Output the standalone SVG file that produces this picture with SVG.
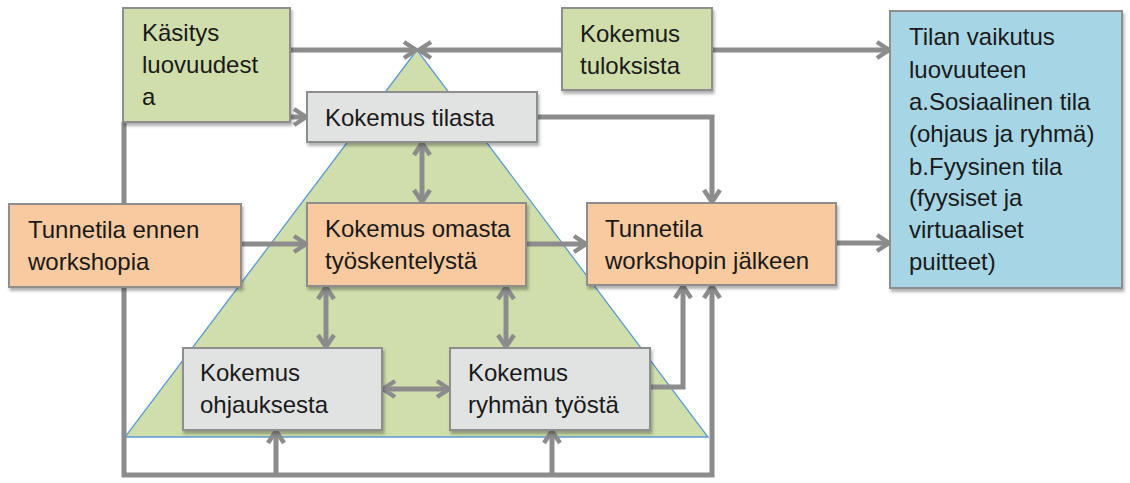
<svg xmlns="http://www.w3.org/2000/svg" width="1130" height="483" viewBox="0 0 1130 483">
<defs>
<style>
.box{stroke:#8e8e8e;stroke-width:2;filter:url(#sh)}
.g{fill:#cfdeab}.o{fill:#f9c99f}.gr{fill:#e1e2e2}.b{fill:#a6d5e5}
text{font-family:"Liberation Sans",Arial,sans-serif;font-size:24px;fill:#1a1a1a}
.c path{fill:none;stroke:#8c8c8c;stroke-width:5}
</style>
<filter id="sh" x="-10%" y="-10%" width="120%" height="130%">
<feDropShadow dx="1.5" dy="3" stdDeviation="1.5" flood-color="#000" flood-opacity="0.3"/>
</filter>
<marker id="ah" viewBox="0 0 20 20" refX="17" refY="10" markerWidth="20" markerHeight="20" markerUnits="userSpaceOnUse" orient="auto-start-reverse">
<path d="M5,2 L17,10 L5,18" fill="none" stroke="#8c8c8c" stroke-width="4.5" stroke-linejoin="miter"/>
</marker>
</defs>
<rect width="1130" height="483" fill="#fff"/>
<g id="triangle">
<polygon points="417,50 125,437 708,437" fill="#cfdeab" stroke="#5b9bd5" stroke-width="1.3"/>
</g>
<g class="c" id="connectors">
<path d="M290,50 L416,50" marker-end="url(#ah)"/>
<path d="M562,50 L419,50" marker-end="url(#ah)"/>
<path d="M712,50 L889,50" marker-end="url(#ah)"/>
<path d="M285,117 L306,117" marker-end="url(#ah)"/>
<path d="M537,117 L712,117 L712,202" marker-end="url(#ah)"/>
<path d="M422,143 L422,202" marker-start="url(#ah)" marker-end="url(#ah)"/>
<path d="M241,244 L306,244" marker-end="url(#ah)"/>
<path d="M526,244 L586,244" marker-end="url(#ah)"/>
<path d="M836,243 L889,243" marker-end="url(#ah)"/>
<path d="M326,287 L326,347" marker-start="url(#ah)" marker-end="url(#ah)"/>
<path d="M506,287 L506,347" marker-start="url(#ah)" marker-end="url(#ah)"/>
<path d="M383,389 L449,389" marker-start="url(#ah)" marker-end="url(#ah)"/>
<path d="M650,387 L683,387 L683,286" marker-end="url(#ah)"/>
<path d="M124,122 L124,475 L712,475 L712,286" marker-end="url(#ah)"/>
<path d="M276,475 L276,431" marker-end="url(#ah)"/>
<path d="M552,475 L552,431" marker-end="url(#ah)"/>
</g>
<g id="kasitys"><rect class="box g" x="123" y="8" width="167" height="114"/>
<text x="142" y="41">Käsitys</text><text x="142" y="73">luovuudest</text><text x="142" y="105">a</text></g>
<g id="tuloksista"><rect class="box g" x="562" y="8" width="150" height="82"/>
<text x="580" y="42">Kokemus</text><text x="580" y="74">tuloksista</text></g>
<g id="tilan"><rect class="box b" x="890" y="11" width="232" height="277"/>
<text x="909" y="45">Tilan vaikutus</text><text x="909" y="78">luovuuteen</text><text x="909" y="110">a.Sosiaalinen tila</text><text x="909" y="142">(ohjaus ja ryhmä)</text><text x="909" y="175">b.Fyysinen tila</text><text x="909" y="206">(fyysiset ja</text><text x="909" y="238">virtuaaliset</text><text x="909" y="270">puitteet)</text></g>
<g id="tilasta"><rect class="box gr" x="307" y="92" width="230" height="50"/>
<text x="325" y="126">Kokemus tilasta</text></g>
<g id="ennen"><rect class="box o" x="9" y="204" width="232" height="83"/>
<text x="28" y="238">Tunnetila ennen</text><text x="28" y="270">workshopia</text></g>
<g id="omasta"><rect class="box o" x="307" y="203" width="219" height="83"/>
<text x="325" y="237">Kokemus omasta</text><text x="325" y="269">työskentelystä</text></g>
<g id="jalkeen"><rect class="box o" x="587" y="203" width="249" height="82"/>
<text x="605" y="237">Tunnetila</text><text x="605" y="269">workshopin jälkeen</text></g>
<g id="ohjaus"><rect class="box gr" x="183" y="348" width="199" height="82"/>
<text x="200" y="381">Kokemus</text><text x="200" y="413">ohjauksesta</text></g>
<g id="ryhma"><rect class="box gr" x="450" y="348" width="200" height="82"/>
<text x="468" y="381">Kokemus</text><text x="468" y="413">ryhmän työstä</text></g>
</svg>
